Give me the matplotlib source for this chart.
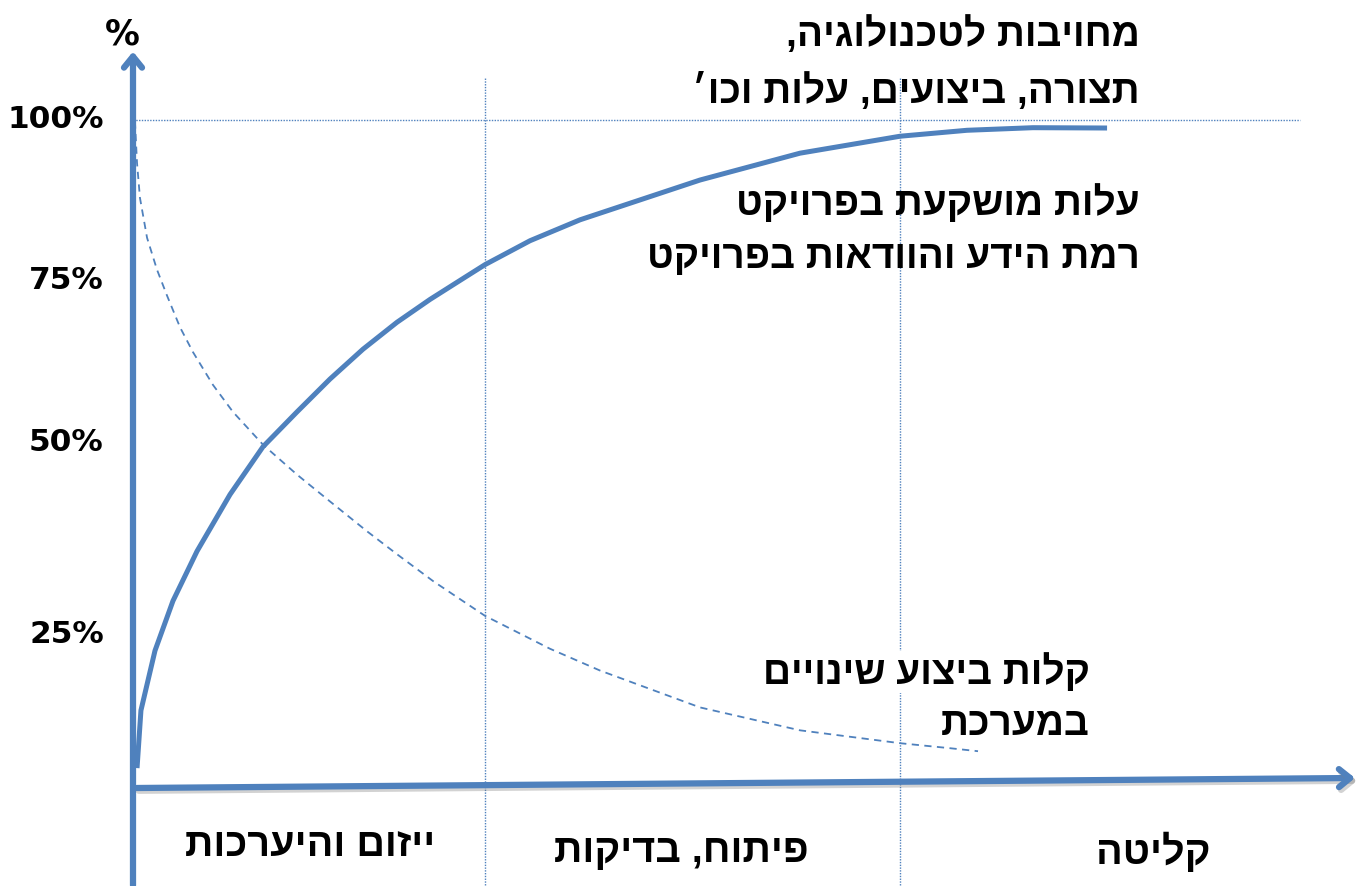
import matplotlib

matplotlib.use('Agg')
import matplotlib.pyplot as plt
import matplotlib.patheffects as pe

_BLUE = '#4f81bd'
_HEB = ['Liberation Sans', 'DejaVu Sans']

# ── data (x: % of project time, y: %) ────────────────────────────────────────

tick_pos = [100.5, 76.5, 52.2, 23.5]
tick_labels = ['100%', '75%', '50%', '25%']

# cost invested / level of knowledge and certainty
know_x = [0.33, 0.65, 1.80, 3.27, 5.24, 7.94, 10.64, 13.42, 16.12, 18.82, 21.60,
          24.30, 27.00, 28.81, 32.49, 36.58, 46.40, 54.58, 62.77, 68.25, 73.65, 79.71]
know_y = [2.98, 11.62, 20.57, 28.02, 35.47, 43.96, 51.12, 56.33, 61.25, 65.72, 69.75,
          73.17, 76.30, 78.39, 81.97, 85.10, 91.06, 95.08, 97.62, 98.51, 98.90, 98.85]

# ease of making changes in the system
ease_x = [0.16, 0.33, 0.57, 1.15, 1.96, 2.78, 3.85, 4.91, 6.55, 8.18, 10.64, 13.42,
          16.12, 19.15, 21.60, 24.55, 28.81, 34.12, 38.22, 46.40, 54.58, 62.77, 66.86, 69.15]
ease_y = [99.85, 93.59, 88.38, 82.41, 77.65, 73.77, 69.00, 65.28, 60.36, 56.33, 51.42, 46.94,
          42.92, 38.45, 35.02, 31.00, 25.78, 20.86, 17.59, 12.07, 8.64, 6.71, 5.96, 5.51]

phase_bounds = [28.8, 62.8]
phase_names = ['ייזום והיערכות', 'פיתוח, בדיקות', 'קליטה']
phase_x = [14.5, 44.9, 83.5]
phase_y = [-8.5, -9.5, -9.5]

top_lines = ['מחויבות לטכנולוגיה,', 'תצורה, ביצועים, עלות וכו׳']
know_lines = ['עלות מושקעת בפרויקט', 'רמת הידע והוודאות בפרויקט']
ease_lines = ['קלות ביצוע שינויים', 'במערכת']


def _rtl(s: str) -> str:
    """matplotlib has no bidi support: feed Hebrew in visual order."""
    return s[::-1]


fig = plt.figure(figsize=(13.65, 8.86), dpi=100)
ax = fig.add_axes([133 / 1365, 1 - 788 / 886, (1355 - 133) / 1365, (788 - 117) / 886])
ax.set_xlim(0, 100)
ax.set_ylim(0, 100)
for s in ax.spines.values():
    s.set_visible(False)
ax.set_xticks([])
ax.set_yticks(tick_pos, tick_labels)
ax.tick_params(axis='y', length=0, pad=21)
for lab in ax.get_yticklabels():
    lab.set_fontfamily('DejaVu Sans')
    lab.set_fontweight('bold')
    lab.set_fontsize(22.5)

# dotted guides
ax.plot([0, 95.5], [100, 100], color=_BLUE, lw=1.0, ls=(0, (1, 1)), clip_on=False)
for xb in phase_bounds:
    ax.plot([xb, xb], [-14.6, 106.3], color=_BLUE, lw=1.0, ls=(0, (1, 1)), clip_on=False)

# curves
ax.plot(ease_x, ease_y, color=_BLUE, lw=1.3, ls=(0, (4, 3)), clip_on=False)
ax.plot(know_x, know_y, color=_BLUE, lw=3.6, solid_capstyle='butt',
        solid_joinstyle='round', clip_on=False)

# axes with arrows
shadow = [pe.SimpleLineShadow(offset=(1.5, -2), shadow_color='gray', alpha=0.35), pe.Normal()]
arrow = dict(arrowstyle='->,head_width=0.65,head_length=0.8', color=_BLUE, lw=4.5,
             shrinkA=0, shrinkB=0)
ax.annotate('', xy=(0, 110.3), xytext=(0, -14.6), arrowprops=arrow, annotation_clip=False)
xa = ax.annotate('', xy=(100, 1.5), xytext=(0.3, 0), arrowprops=arrow, annotation_clip=False)
xa.arrow_patch.set_path_effects(shadow)

ax.text(-0.9, 112.9, '%', fontsize=25, fontweight='bold', family='DejaVu Sans',
        ha='center', va='center')

txt = dict(fontsize=28, fontweight='bold', family=_HEB, ha='right', va='center')
ax.text(82.4, 112.7, _rtl(top_lines[0]), **txt)
ax.text(82.4, 104.3, _rtl(top_lines[1]), **txt)
ax.text(82.4, 87.6, _rtl(know_lines[0]), **txt)
ax.text(82.4, 79.4, _rtl(know_lines[1]), **txt)
ax.text(78.3, 17.3, _rtl(ease_lines[0]), bbox=dict(fc='white', ec='none', pad=1), **txt)
ax.text(78.3, 9.4, _rtl(ease_lines[1]), **txt)

for name, px, py in zip(phase_names, phase_x, phase_y):
    ax.text(px, py, _rtl(name), fontsize=28.5, fontweight='bold', family=_HEB,
            ha='center', va='center')

fig.savefig('out.png', dpi=100, facecolor='white')
